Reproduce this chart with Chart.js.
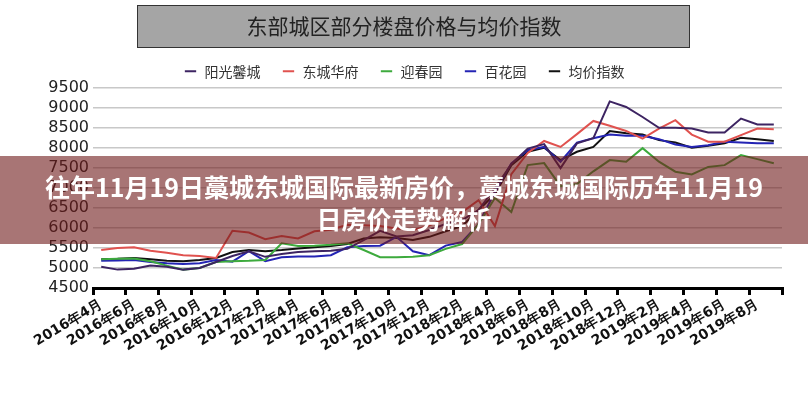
<!DOCTYPE html>
<html>
<head>
<meta charset="utf-8">
<script src="https://cdn.jsdelivr.net/npm/chart.js@4.4.0/dist/chart.umd.min.js"></script>
<style>
  html, body { margin: 0; padding: 0; background: #fff; }
  #wrap { position: relative; width: 808px; height: 400px; overflow: hidden; }
  #banner {
    position: absolute; left: 0; top: 156px; width: 808px; height: 88px;
    box-sizing: border-box; padding-top: 14px;
    background: rgba(110, 25, 25, 0.6);
    color: #fff; text-align: center;
    font: bold 25px "Noto Sans CJK SC", sans-serif; line-height: 32px;
  }
</style>
</head>
<body>
<div id="wrap">
  <canvas id="chartPrices" width="808" height="400"></canvas>
  <div id="banner">往年11月19日藁城东城国际最新房价，藁城东城国际历年11月19<br>日房价走势解析</div>
</div>
<script>
// months 2016年4月 .. 2019年9月, every other one is labelled on the axis
const months = [
  '2016年4月','2016年5月','2016年6月','2016年7月','2016年8月','2016年9月','2016年10月','2016年11月','2016年12月',
  '2017年1月','2017年2月','2017年3月','2017年4月','2017年5月','2017年6月','2017年7月','2017年8月','2017年9月',
  '2017年10月','2017年11月','2017年12月','2018年1月','2018年2月','2018年3月','2018年4月','2018年5月','2018年6月',
  '2018年7月','2018年8月','2018年9月','2018年10月','2018年11月','2018年12月','2019年1月','2019年2月','2019年3月',
  '2019年4月','2019年5月','2019年6月','2019年7月','2019年8月','2019年9月'
];

const yangguang = [5030,4960,4980,5060,5030,4960,5000,5150,5300,5420,5280,5350,5400,5420,5430,5480,5700,5930,5790,5820,5950,
  6100,6200,6450,7000,7600,7990,8100,7500,8120,8250,9170,9030,8780,8510,8510,8490,8390,8390,8740,8590,8590];
const dongcheng = [5450,5500,5520,5430,5380,5320,5300,5250,5930,5890,5720,5800,5740,5920,5960,6080,6070,6050,5990,5950,6060,
  6250,6400,6700,6050,7350,7880,8180,8030,8350,8680,8560,8430,8240,8490,8700,8340,8160,8160,8325,8490,8470];
const yingchun = [5220,5230,5240,5170,5060,4960,5000,5150,5170,5180,5200,5620,5550,5560,5580,5620,5450,5270,5270,5280,5320,
  5480,5600,6100,6750,6400,7575,7625,7050,7100,7420,7700,7660,8000,7660,7410,7340,7530,7575,7825,7725,7620];
const baihua = [5180,5190,5200,5150,5120,5100,5120,5200,5160,5420,5170,5270,5290,5290,5320,5520,5550,5560,5780,5420,5320,
  5560,5650,6100,6900,7620,7950,8030,7660,8140,8250,8340,8310,8310,8225,8090,8030,8075,8160,8140,8120,8120];
const junjia = [5220,5230,5250,5220,5180,5170,5200,5250,5400,5450,5420,5450,5490,5520,5550,5600,5740,5770,5750,5700,5780,
  5920,6050,6450,6850,7570,7910,8010,7700,7910,8030,8430,8370,8340,8200,8140,8010,8060,8120,8260,8225,8180];

const yTicks = [4500, 5000, 5500, 6000, 6500, 7000, 7500, 8000, 8500, 9000, 9500];

function line(label, data, color) {
  return { label, data, borderColor: color, backgroundColor: color, borderWidth: 2, pointRadius: 0, tension: 0 };
}

// gray box behind the chart title
const titleBox = {
  id: 'titleBox',
  beforeDraw(chart) {
    const c = chart.ctx;
    c.save();
    c.fillStyle = '#a5a5a5';
    c.strokeStyle = '#333';
    c.lineWidth = 1;
    c.fillRect(137, 5, 553, 43);
    c.strokeRect(137.5, 5.5, 552, 42);
    c.restore();
  }
};

const ctx = document.getElementById('chartPrices');

new Chart(ctx, {
  type: 'line',
  data: {
    labels: months,
    datasets: [
      line('阳光馨城', yangguang, '#3d2462'),
      line('东城华府', dongcheng, '#e0524f'),
      line('迎春园', yingchun, '#3daa3d'),
      line('百花园', baihua, '#2424b4'),
      line('均价指数', junjia, '#111111')
    ]
  },
  plugins: [titleBox],
  options: {
    responsive: false,
    animation: false,
    layout: { padding: 0 },
    plugins: {
      tooltip: { enabled: false },
      title: {
        display: true,
        text: '东部城区部分楼盘价格与均价指数',
        color: '#222',
        font: { family: '"Noto Sans CJK SC"', size: 21, weight: 'normal' },
        padding: { top: 13, bottom: 5 }
      },
      legend: {
        labels: {
          usePointStyle: true,
          pointStyle: 'line',
          boxHeight: 8,
          padding: 21,
          color: '#333',
          font: { family: '"Noto Sans CJK SC"', size: 14 }
        }
      }
    },
    scales: {
      x: {
        offset: true,
        grid: {
          offset: true,
          drawOnChartArea: false,
          tickLength: 7,
          lineWidth: 3,
          tickColor: (c) => (c.index === undefined || c.index % 2 === 0) ? '#000' : 'rgba(0,0,0,0)'
        },
        border: { color: '#000', width: 3 },
        ticks: {
          autoSkip: false,
          minRotation: 31,
          maxRotation: 31,
          padding: 1,
          color: '#111',
          font: { family: '"DejaVu Sans"', size: 14, weight: 'bold' },
          callback: (v, i) => i % 2 === 0 ? months[i] : ''
        },
        afterFit: (s) => { s.height = 112; }
      },
      y: {
        min: yTicks[0],
        max: yTicks[yTicks.length - 1],
        afterBuildTicks: (s) => { s.ticks = yTicks.map(v => ({ value: v })); },
        grid: { color: '#c8c8c8', lineWidth: 1.5, drawTicks: false },
        border: { display: false },
        ticks: {
          autoSkip: false,
          padding: 4,
          color: '#222',
          font: { family: '"DejaVu Sans"', size: 16 },
          callback: (v) => String(v)
        },
        afterFit: (s) => { s.width = 93; }
      },
      yRight: {
        position: 'right',
        grid: { display: false },
        border: { display: false },
        ticks: { display: false },
        afterFit: (s) => { s.width = 26; }
      }
    }
  }
});
</script>
</body>
</html>
